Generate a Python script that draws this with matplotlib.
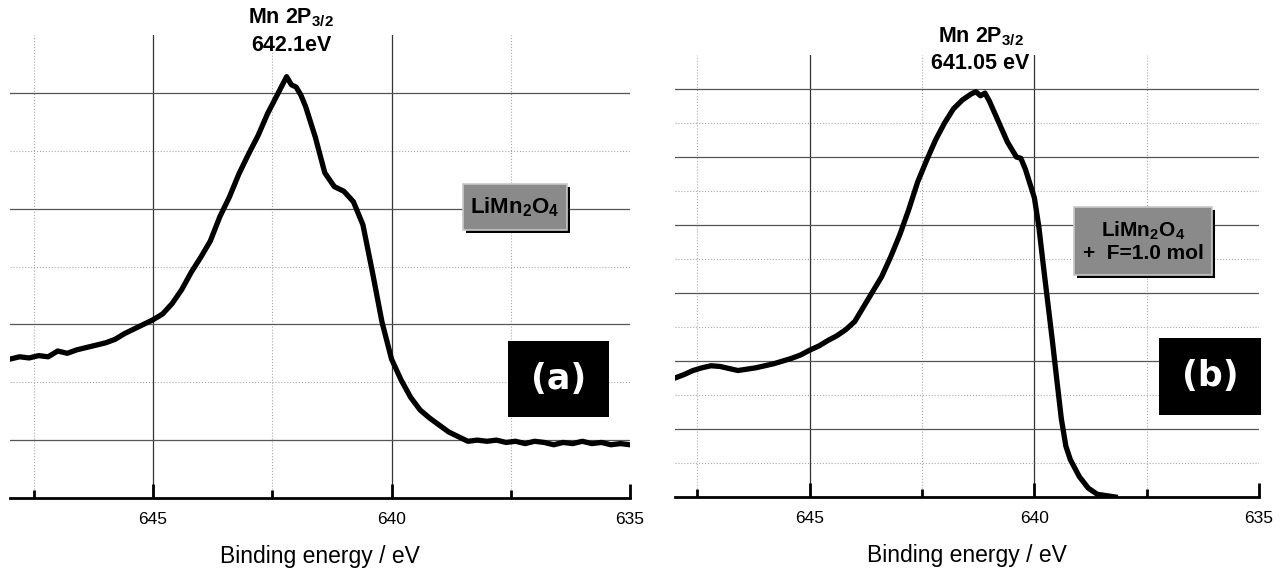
import matplotlib
matplotlib.use("Agg")
import matplotlib.pyplot as plt
from matplotlib.patches import Rectangle
from matplotlib.transforms import offset_copy

plt.rcParams['font.family'] = ['Liberation Sans', 'DejaVu Sans']
plt.rcParams['mathtext.fontset'] = 'custom'
plt.rcParams['mathtext.rm'] = 'Liberation Sans'
plt.rcParams['mathtext.bf'] = 'Liberation Sans:bold'

# (a) LiMn2O4 - Mn 2p3/2 spectrum (intensity in grid units)
be_a = [648.0, 647.8, 647.6, 647.4, 647.2, 647.0, 646.8, 646.6, 646.4, 646.2,
        646.0, 645.8, 645.6, 645.4, 645.2, 645.0, 644.8, 644.6, 644.4, 644.2,
        644.0, 643.8, 643.6, 643.4, 643.2, 643.0, 642.8, 642.6, 642.4, 642.3,
        642.2, 642.1, 642.0, 641.9, 641.8, 641.6, 641.4, 641.2, 641.0, 640.8,
        640.6, 640.4, 640.2, 640.0, 639.8, 639.6, 639.4, 639.2, 639.0, 638.8,
        638.6, 638.4, 638.2, 638.0, 637.8, 637.6, 637.4, 637.2, 637.0, 636.8,
        636.6, 636.4, 636.2, 636.0, 635.8, 635.6, 635.4, 635.2, 635.0]
int_a = [1.70, 1.72, 1.71, 1.73, 1.72, 1.77, 1.75, 1.78, 1.80, 1.82,
         1.84, 1.87, 1.92, 1.96, 2.00, 2.04, 2.09, 2.18, 2.30, 2.45,
         2.58, 2.72, 2.93, 3.10, 3.30, 3.47, 3.63, 3.82, 3.98, 4.06,
         4.14, 4.07, 4.05, 3.98, 3.88, 3.62, 3.31, 3.19, 3.15, 3.06,
         2.86, 2.45, 2.02, 1.70, 1.52, 1.37, 1.26, 1.19, 1.13, 1.07,
         1.03, 0.99, 1.00, 0.99, 1.00, 0.98, 0.99, 0.97, 0.99, 0.98,
         0.96, 0.98, 0.97, 0.99, 0.97, 0.98, 0.96, 0.97, 0.96]

# (b) LiMn2O4 + F=1.0 mol
be_b = [648.0, 647.8, 647.6, 647.4, 647.2, 647.0, 646.8, 646.6, 646.4, 646.2,
        646.0, 645.8, 645.6, 645.4, 645.2, 645.0, 644.8, 644.6, 644.4, 644.2,
        644.0, 643.8, 643.6, 643.4, 643.2, 643.0, 642.8, 642.6, 642.4, 642.2,
        642.0, 641.8, 641.6, 641.4, 641.3, 641.2, 641.1, 641.0, 640.8, 640.6,
        640.4, 640.3, 640.2, 640.0, 639.9, 639.8, 639.7, 639.6, 639.5, 639.4,
        639.3, 639.2, 639.0, 638.8, 638.6, 638.4, 638.2]
int_b = [1.75, 1.80, 1.86, 1.90, 1.93, 1.92, 1.89, 1.86, 1.88, 1.90,
         1.93, 1.96, 2.00, 2.04, 2.09, 2.16, 2.22, 2.30, 2.37, 2.46,
         2.58, 2.80, 3.02, 3.24, 3.53, 3.85, 4.22, 4.63, 4.95, 5.25,
         5.50, 5.71, 5.84, 5.93, 5.96, 5.90, 5.94, 5.82, 5.52, 5.22,
         5.00, 4.98, 4.82, 4.40, 3.97, 3.40, 2.85, 2.30, 1.72, 1.15,
         0.75, 0.55, 0.30, 0.13, 0.04, 0.02, 0.00]

major_x = [645, 640, 635]
minor_x = [647.5, 642.5, 637.5]

fig = plt.figure(figsize=(12.85, 5.75), dpi=100)
ax_a = fig.add_axes([10/1285, 77/575, 620/1285, 463/575])
ax_b = fig.add_axes([675/1285, 78/575, 584/1285, 442/575])


def style_axes(ax, ylim, ymaj, ymin):
    ax.set_xlim(648, 635)
    ax.set_ylim(*ylim)
    ax.set_xticks(major_x)
    ax.set_xticks(minor_x, minor=True)
    ax.set_yticks(ymaj)
    ax.set_yticks(ymin, minor=True)
    for s in ['left', 'right', 'top']:
        ax.spines[s].set_visible(False)
    ax.spines['bottom'].set_linewidth(2)
    ax.tick_params(axis='x', which='major', direction='in', length=10, width=2,
                   labelsize=12.5, pad=10)
    ax.tick_params(axis='x', which='minor', direction='in', length=6, width=2)
    ax.tick_params(axis='y', which='both', left=False, labelleft=False)
    ax.grid(which='major', axis='y', color='#555555', lw=0.9)
    ax.grid(which='major', axis='x', color='#333333', lw=0.9)
    ax.grid(which='minor', color='#aaaaaa', lw=0.8, ls=':')
    ax.xaxis.get_major_ticks()[-1].gridline.set_visible(False)
    ax.set_axisbelow(True)
    ax.set_xlabel('Binding energy / eV', fontsize=16.5, labelpad=13)


def gray_box(ax, x0, y0, w, h, text, fs, ls=1.2):
    shadow_tr = offset_copy(ax.transAxes, fig=fig, x=3, y=-3, units='dots')
    ax.add_patch(Rectangle((x0, y0), w, h, transform=shadow_tr, fc='black',
                           ec='none', zorder=5, clip_on=False))
    ax.add_patch(Rectangle((x0, y0), w, h, transform=ax.transAxes, fc='#8a8a8a',
                           ec='#c8c8c8', lw=1.2, zorder=6, clip_on=False))
    ax.text(x0 + w/2, y0 + h/2, text, transform=ax.transAxes, ha='center',
            va='center', fontsize=fs, fontweight='bold', zorder=7,
            linespacing=ls, multialignment='center')


def black_box(ax, x0, y0, w, h, text):
    ax.add_patch(Rectangle((x0, y0), w, h, transform=ax.transAxes, fc='black',
                           ec='none', zorder=5, clip_on=False))
    ax.text(x0 + w/2, y0 + h/2, text, transform=ax.transAxes, ha='center',
            va='center', fontsize=25, fontweight='bold', color='white', zorder=7,
            family='DejaVu Sans')


# panel (a)
style_axes(ax_a, (0.5, 4.5), [1, 2, 3, 4], [1.5, 2.5, 3.5])
ax_a.plot(be_a, int_a, color='black', lw=3.8, zorder=4)
ax_a.annotate(r'Mn 2P$_{\mathbf{3/2}}$', xy=(642.1, 1.037), xycoords=('data', 'axes fraction'),
              ha='center', va='center', fontsize=15.5, fontweight='bold', annotation_clip=False)
ax_a.annotate('642.1eV', xy=(642.1, 0.978), xycoords=('data', 'axes fraction'),
              ha='center', va='center', fontsize=15.5, fontweight='bold', annotation_clip=False)
gray_box(ax_a, 0.731, 0.579, 0.167, 0.099, r'LiMn$_{\mathbf{2}}$O$_{\mathbf{4}}$', 16)
black_box(ax_a, 0.803, 0.175, 0.163, 0.164, '(a)')

# panel (b)
style_axes(ax_b, (0, 6.5), [1, 2, 3, 4, 5, 6], [0.5, 1.5, 2.5, 3.5, 4.5, 5.5])
ax_b.plot(be_b, int_b, color='black', lw=3.8, zorder=4)
ax_b.annotate(r'Mn 2P$_{\mathbf{3/2}}$', xy=(641.2, 1.041), xycoords=('data', 'axes fraction'),
              ha='center', va='center', fontsize=15.5, fontweight='bold', annotation_clip=False)
ax_b.annotate('641.05 eV', xy=(641.2, 0.980), xycoords=('data', 'axes fraction'),
              ha='center', va='center', fontsize=15.5, fontweight='bold', annotation_clip=False)
gray_box(ax_b, 0.683, 0.502, 0.237, 0.154,
         'LiMn$_{\\mathbf{2}}$O$_{\\mathbf{4}}$\n+  F=1.0 mol', 15, ls=1.1)
black_box(ax_b, 0.829, 0.186, 0.174, 0.174, '(b)')

fig.savefig('out.png', dpi=100)
